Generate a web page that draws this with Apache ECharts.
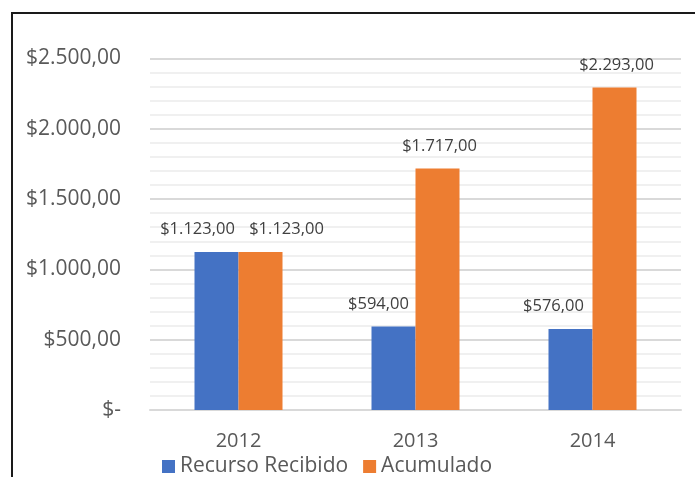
<!DOCTYPE html>
<html>
<head>
<meta charset="utf-8">
<script src="https://cdn.jsdelivr.net/npm/echarts@6/dist/echarts.min.js"></script>
<style>
  html, body { margin: 0; padding: 0; background: #fff; }
  #chart { width: 695px; height: 477px; }
</style>
</head>
<body>
<div id="chart"></div>
<script>
// data
var years = ['2012', '2013', '2014']
var recibido = [1123, 594, 576]
var acumulado = [1123, 1717, 2293]
var seriesNames = ['Recurso Recibido', 'Acumulado']

// $1.123,00 style
function money(v) {
  if (v === 0) return '$-'
  var parts = v.toFixed(2).split('.')
  var ent = parts[0].replace(/\B(?=(\d{3})+(?!\d))/g, '.')
  return '$' + ent + ',' + parts[1]
}

var font = 'Open Sans'
var chart = echarts.init(document.getElementById('chart'))

// Excel nudges some labels sideways so they don't overlap
var blueShift = [-19, -15, -17]
var orangeShift = [26, 2, 2]

function items(values, shift) {
  return values.map(function (v, i) {
    return { value: v, label: { offset: [shift[i], 0] } }
  })
}

chart.setOption({
  animation: false,
  textStyle: { fontFamily: font },
  graphic: [
    {
      type: 'rect',
      shape: { x: 12, y: 13, width: 720, height: 520 },
      style: { fill: 'none', stroke: '#1a1a1a', lineWidth: 2 }
    }
  ],
  grid: {
    left: 150,
    right: 14,
    top: 58.5,
    bottom: 67
  },
  legend: {
    left: 157,
    top: 451,
    icon: 'rect',
    itemWidth: 13,
    itemHeight: 13,
    itemGap: 15,
    textStyle: { fontSize: 21, color: '#595959', fontFamily: font },
    data: seriesNames
  },
  xAxis: {
    type: 'category',
    data: years,
    axisLine: { lineStyle: { color: '#d9d9d9', width: 2 } },
    axisTick: { show: false },
    axisLabel: { fontSize: 20, color: '#595959', margin: 21 }
  },
  yAxis: {
    type: 'value',
    min: 0,
    max: 2500,
    interval: 500,
    axisLine: { show: false },
    axisTick: { show: false },
    axisLabel: {
      fontSize: 21,
      color: '#595959',
      margin: 29,
      formatter: money
    },
    splitLine: { lineStyle: { color: '#d9d9d9', width: 2 } },
    minorTick: { show: false, splitNumber: 5 },
    minorSplitLine: { show: true, lineStyle: { color: '#f0f0f0', width: 2 } }
  },
  series: [
    {
      name: seriesNames[0],
      type: 'bar',
      barWidth: 44,
      barGap: '0%',
      itemStyle: { color: '#4472C4' },
      label: {
        show: true,
        position: 'top',
        distance: 14,
        fontSize: 16.5,
        color: '#404040',
        formatter: function (p) { return money(p.value) }
      },
      data: items(recibido, blueShift)
    },
    {
      name: seriesNames[1],
      type: 'bar',
      barWidth: 44,
      itemStyle: { color: '#ED7D31' },
      label: {
        show: true,
        position: 'top',
        distance: 14,
        fontSize: 16.5,
        color: '#404040',
        formatter: function (p) { return money(p.value) }
      },
      data: items(acumulado, orangeShift)
    }
  ]
})
</script>
</body>
</html>
